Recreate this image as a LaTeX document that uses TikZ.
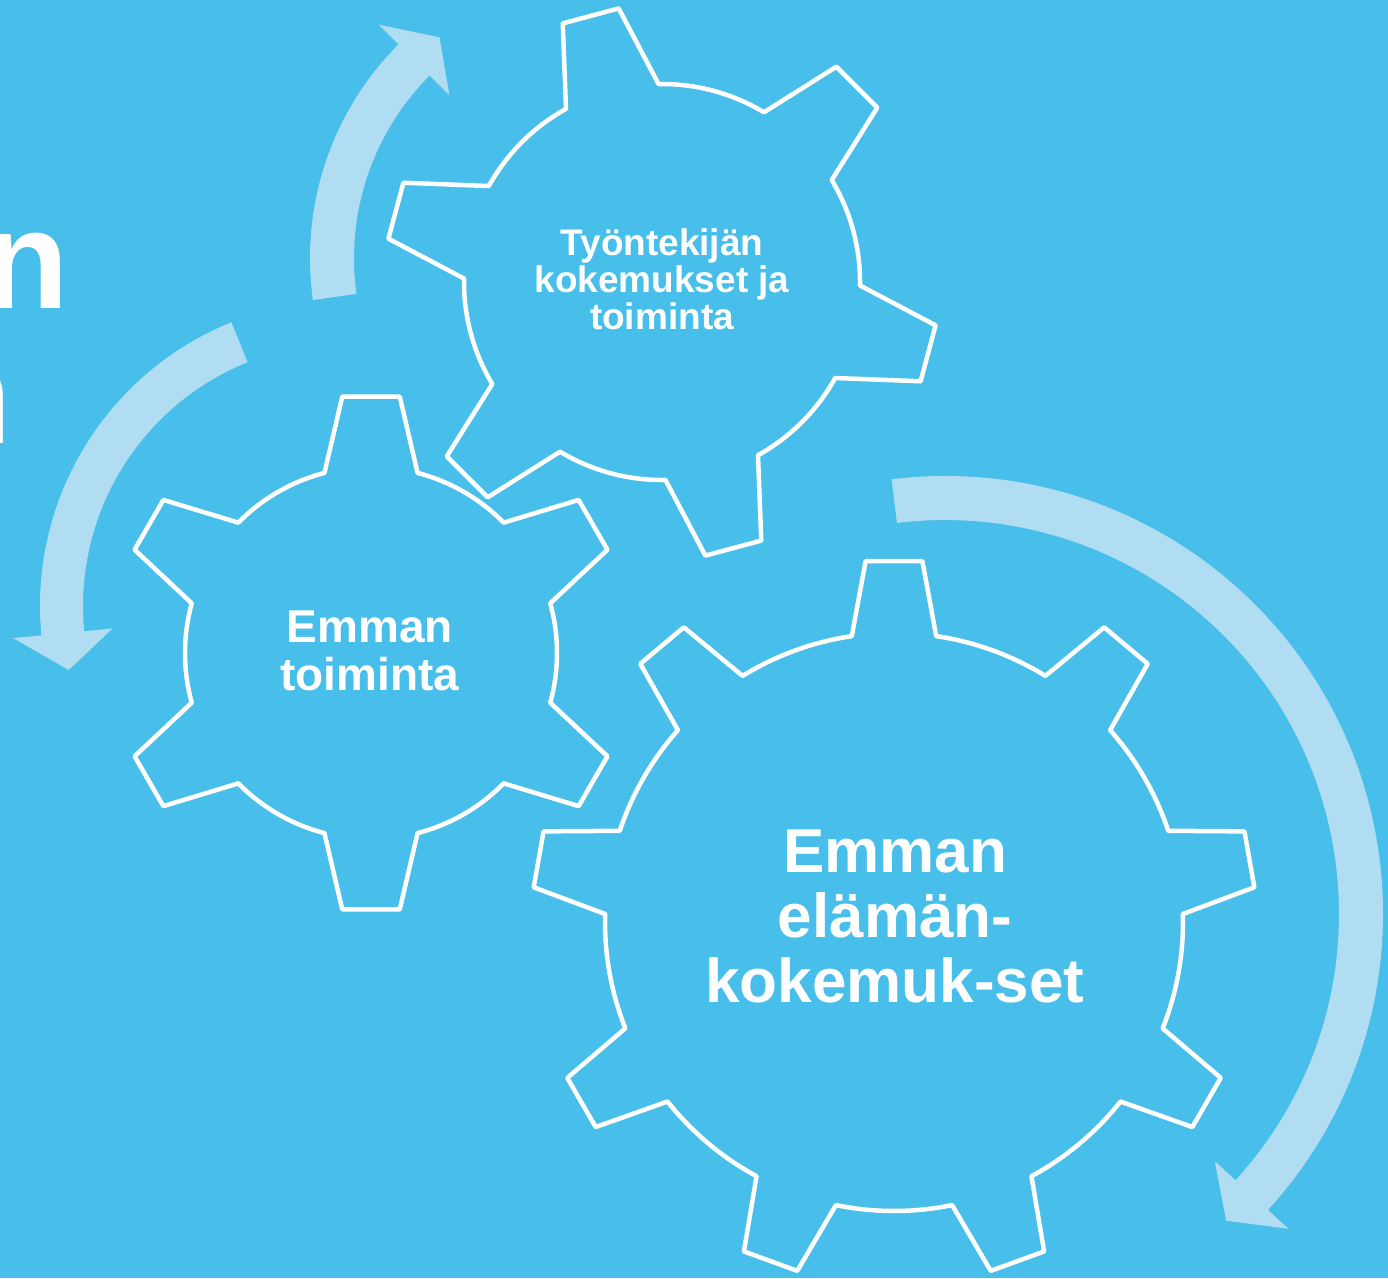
\documentclass[tikz,border=0pt]{standalone}
\usepackage{fontspec}
\setmainfont{Liberation Sans}
\definecolor{bg}{RGB}{72,190,234}
\definecolor{arr}{RGB}{176,221,242}
% #1 x, #2 y, #3 teeth, #4 phase, #5 root r, #6 outer r, #7 root half-angle, #8 tip half-angle
\newcommand\gearoutline[8]{%
  \draw[gear, shift={(#1,#2)}] ({#4-#7}:#5)
    \foreach \i in {1,...,#3}{
      -- ({#4+(\i-1)*360/#3-#8}:#6) -- ({#4+(\i-1)*360/#3+#8}:#6)
      -- ({#4+(\i-1)*360/#3+#7}:#5)
      arc[start angle={#4+(\i-1)*360/#3+#7}, end angle={#4+\i*360/#3-#7}, radius=#5]
    } -- cycle;}
\begin{document}
\begin{tikzpicture}[x=1pt,y=1pt,
  gear/.style={draw=white, line width=4.5pt, line join=round},
  arrowshape/.style={fill=arr, draw=none},
  geartext/.style={text=white, align=center, inner sep=0pt},
  titletext/.style={text=white, inner sep=0pt, anchor=base east,
    font=\fontsize{140}{140}\selectfont\bfseries}]
\useasboundingbox (0,0) rectangle (1388,-1278);
\clip (0,0) rectangle (1388,-1278);
\fill[bg] (0,0) rectangle (1388,-1278);

% cut-off title letters at the left edge
\node[titletext] (n1) at (69,-308) {n};
\node[titletext] (n2) at (12,-443) {n};

% curved arrows
\fill[arrowshape, shift={(612,-258)}] (188:302)
  arc[start angle=188, end angle=135, radius=302]
  -- (135:330) -- (128:280) -- (135:230) -- (135:258)
  arc[start angle=135, end angle=188, radius=258] -- cycle;
\fill[arrowshape, shift={(346,-606)}] (112:306)
  arc[start angle=112, end angle=185.5, radius=306]
  -- (185.5:334.5) -- (193:284.5) -- (185.5:234.5) -- (185.5:263)
  arc[start angle=185.5, end angle=112, radius=263] -- cycle;
\fill[arrowshape, shift={(945,-914)}] (97:438)
  arc[start angle=97, end angle=-42.5, radius=438]
  -- (-42.5:466) -- (-47.5:416) -- (-42.5:366) -- (-42.5:394)
  arc[start angle=-42.5, end angle=97, radius=394] -- cycle;

% gears
\gearoutline{662}{-282}{6}{105}{198}{277}{14}{6}
\gearoutline{371}{-653}{6}{90}{186}{258}{14.5}{6.4}
\gearoutline{894}{-922}{9}{90}{289}{362}{8.4}{4.5}

% gear labels
\node[geartext, font=\fontsize{37}{37}\selectfont\bfseries] (t1) at (662,-279)
  {Työntekijän\\kokemukset ja\\toiminta};
\node[geartext, font=\fontsize{46}{48}\selectfont\bfseries] (t2) at (370,-651)
  {Emman\\toiminta};
\node[geartext, font=\fontsize{62}{65}\selectfont\bfseries] (t3) at (895,-916)
  {Emman\\elämän-\\kokemuk-set};
\end{tikzpicture}
\end{document}
